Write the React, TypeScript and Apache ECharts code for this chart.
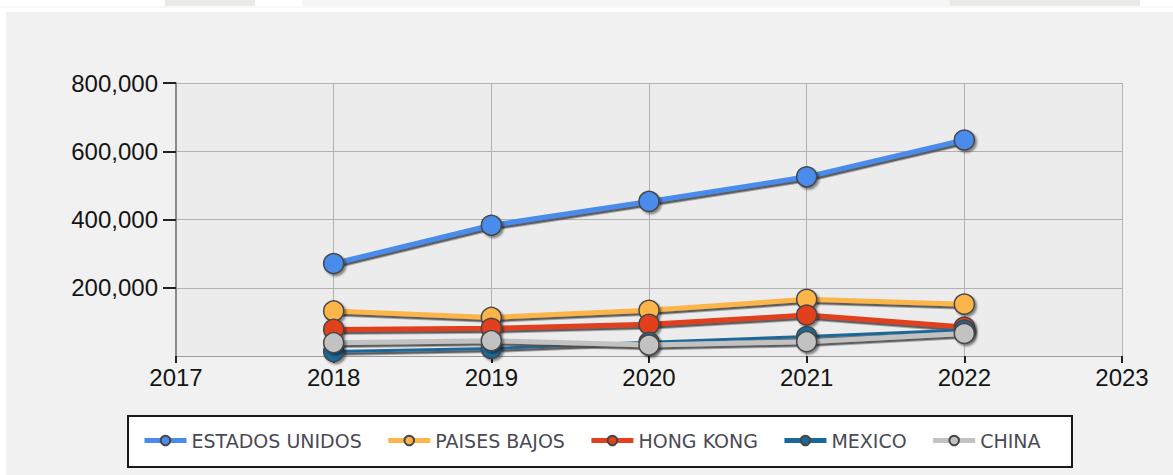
import React, { useEffect, useRef } from "react";
import * as echarts from "echarts";

const years = [2018, 2019, 2020, 2021, 2022];
const seriesNames = ["ESTADOS UNIDOS", "PAISES BAJOS", "HONG KONG", "MEXICO", "CHINA"];
const estadosUnidos = [271000, 383000, 453000, 525000, 633000];
const paisesBajos = [132000, 113000, 134000, 166000, 152000];
const hongKong = [78000, 81000, 93000, 120000, 85000];
const mexico = [13000, 22000, 40000, 57000, 76000];
const china = [39000, 45000, 32000, 42000, 66000];
const seriesColors = ["#4a8cec", "#fbb54a", "#e2401f", "#1b6898", "#c2c2c2"];
const seriesWidths = [5, 5, 5, 3, 5];

export default function App() {
  const ref = useRef<HTMLDivElement>(null);
  useEffect(() => {
    document.body.style.margin = "0";
    const chart = echarts.init(ref.current!, null, { renderer: "svg" });
    const allData = [estadosUnidos, paisesBajos, hongKong, mexico, china];
    const fmt = (v: number) => String(v).replace(/\B(?=(\d{3})+(?!\d))/g, ",");
    chart.setOption({
      animation: false,
      backgroundColor: "#ffffff",
      graphic: [
        { type: "rect", z: -10, shape: { x: 6, y: 12, width: 1167, height: 463 }, style: { fill: "#f1f1f1" }, silent: true },
        { type: "rect", z: -10, shape: { x: 165, y: 0, width: 90, height: 6 }, style: { fill: "#e9ebe5" }, silent: true },
        { type: "rect", z: -10, shape: { x: 302, y: 0, width: 650, height: 6 }, style: { fill: "#f6f7f5" }, silent: true },
        { type: "rect", z: -10, shape: { x: 950, y: 0, width: 190, height: 6 }, style: { fill: "#e9ebe5" }, silent: true },
        { type: "rect", z: -10, shape: { x: 0, y: 6, width: 1173, height: 2 }, style: { fill: "#f8f8f8" }, silent: true },
        { type: "rect", z: 1, shape: { x: 128, y: 416, width: 944, height: 51 }, style: { fill: "#ffffff", stroke: "#1a1a1a", lineWidth: 2 }, silent: true },
      ],
      grid: {
        left: 176,
        right: 51,
        top: 83,
        bottom: 119,
        show: true,
        backgroundColor: "#ececec",
        borderWidth: 0,
      },
      legend: {
        data: seriesNames,
        left: 142,
        top: 431,
        padding: 0,
        itemWidth: 42,
        itemHeight: 12,
        itemGap: 24,
        z: 5,
        lineStyle: { width: 5 },
        textStyle: { fontFamily: "DejaVu Sans", fontSize: 19, color: "#4a4a55" },
      },
      xAxis: {
        type: "value",
        min: 2017,
        max: 2023,
        interval: 1,
        axisLine: { show: true, lineStyle: { color: "#9a9a9a", width: 1 } },
        axisTick: { show: true, length: 7, lineStyle: { color: "#222", width: 2 } },
        axisLabel: {
          fontFamily: "Liberation Sans",
          fontSize: 24,
          color: "#141414",
          margin: 9,
          formatter: (v: number) => String(v),
        },
        splitLine: { show: true, lineStyle: { color: "#b2b2b2", width: 1 } },
      },
      yAxis: {
        type: "value",
        min: 0,
        max: 800000,
        interval: 200000,
        axisLine: { show: true, lineStyle: { color: "#8a8a8a", width: 2 } },
        axisTick: { show: true, length: 13, lineStyle: { color: "#222", width: 2 } },
        axisLabel: {
          fontFamily: "Liberation Sans",
          fontSize: 24,
          color: "#141414",
          margin: 18,
          showMinLabel: false,
          formatter: fmt,
        },
        splitLine: { show: true, lineStyle: { color: "#b2b2b2", width: 1 } },
      },
      series: seriesNames.map((name, i) => ({
        name,
        type: "line",
        data: years.map((y, j) => [y, allData[i][j]]),
        symbol: "circle",
        symbolSize: 20,
        showSymbol: true,
        color: seriesColors[i],
        lineStyle: {
          color: seriesColors[i],
          width: seriesWidths[i],
          shadowColor: "rgba(80,80,80,0.9)",
          shadowBlur: 1,
          shadowOffsetX: 1,
          shadowOffsetY: 2.5,
        },
        itemStyle: {
          color: seriesColors[i],
          borderColor: "#464646",
          borderWidth: 1.5,
          shadowColor: "rgba(0,0,0,0.45)",
          shadowBlur: 2,
          shadowOffsetX: 2,
          shadowOffsetY: 2,
        },
        z: 2 + i,
      })),
    });
    return () => chart.dispose();
  }, []);
  return <div ref={ref} style={{ width: 1173, height: 475 }} />;
}
